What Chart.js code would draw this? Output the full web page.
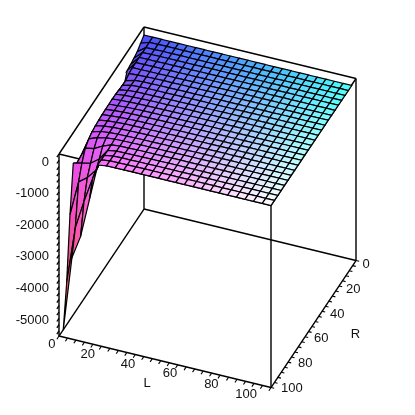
<!DOCTYPE html>
<html>
<head>
<meta charset="utf-8">
<script src="https://cdn.jsdelivr.net/npm/chart.js@4"></script>
<style>
  html, body { margin: 0; padding: 0; background: #fff; }
  canvas { display: block; }
</style>
</head>
<body>
<canvas id="myChart" width="415" height="415"></canvas>
<script>
// grid of the surface
var lValues = [2, 6.1, 10.2, 14.3, 18.3, 22.4, 26.5, 30.6, 34.7, 38.8, 42.8, 46.9, 51, 55.1, 59.2, 63.3, 67.3, 71.4, 75.5, 79.6, 83.7, 87.8, 91.8, 95.9, 100];
var rValues = [5, 9, 13, 16.9, 20.8, 24.8, 28.8, 32.7, 36.7, 40.6, 44.6, 48.5, 52.5, 56.5, 60.4, 64.4, 68.3, 72.3, 76.3, 80.2, 84.2, 88.2, 92.1, 96, 100];

// one row per R value, one column per L value
var zRows = [
  [-20,-20,-20,-20,-20,-20,-20,-20,-20,-20,-20,-20,-20,-20,-20,-20,-20,-20,-20,-20,-20,-20,-20,-20,-20],
  [-120,-25,-20,-20,-20,-20,-20,-20,-20,-20,-20,-20,-20,-20,-20,-20,-20,-20,-20,-20,-20,-20,-20,-20,-20],
  [-230,-30,-25,-20,-20,-20,-20,-20,-20,-20,-20,-20,-20,-20,-20,-20,-20,-15,-15,-15,-15,-15,-15,-15,-15],
  [-280,-30,-25,-20,-20,-20,-20,-20,-15,-15,-15,-15,-15,-15,-15,-15,-15,-15,-15,-15,-15,-15,-15,-15,-15],
  [-320,-30,-25,-25,-20,-20,-20,-20,-15,-15,-15,-15,-15,-15,-15,-15,-15,-15,-10,-10,-10,-10,-10,-10,-10],
  [-350,-30,-30,-25,-25,-20,-20,-15,-15,-15,-15,-15,-15,-15,-10,-10,-10,-10,-10,-10,-10,-10,-10,-10,-10],
  [-700,-30,-30,-25,-25,-20,-20,-15,-15,-15,-15,-10,-10,-10,-10,-10,-10,-10,-10,-10,-10,-10,-10,-10,-10],
  [-750,-60,-40,-30,-25,-20,-20,-15,-15,-15,-10,-10,-10,-10,-10,-10,-10,-10,-10,-10,-10,-10,-10,-10,-5],
  [-800,-120,-50,-30,-25,-20,-20,-15,-15,-15,-10,-10,-10,-10,-10,-10,-10,-10,-10,-5,-5,-5,-5,-5,-5],
  [-800,-115,-50,-30,-25,-20,-20,-15,-15,-10,-10,-10,-10,-10,-10,-5,-5,-5,-5,-5,-5,-5,-5,-5,-5],
  [-800,-100,-50,-30,-25,-20,-20,-15,-15,-10,-10,-10,-10,-5,-5,-5,-5,-5,-5,-5,-5,-5,-5,-5,-5],
  [-800,-80,-50,-35,-25,-20,-15,-15,-10,-10,-10,-10,-5,-5,-5,-5,-5,-5,-5,-5,-5,-5,-5,-5,-5],
  [-800,-70,-50,-35,-25,-20,-15,-15,-10,-10,-10,-5,-5,-5,-5,-5,-5,-5,-5,-5,-5,-5,-5,-5,-5],
  [-800,-75,-55,-35,-25,-20,-15,-15,-10,-10,-10,-5,-5,-5,-5,-5,-5,-5,-5,-5,-5,0,0,0,0],
  [-800,-80,-55,-35,-25,-20,-15,-15,-10,-10,-5,-5,-5,-5,-5,-5,-5,-5,-5,0,0,0,0,0,0],
  [-800,-85,-60,-40,-25,-20,-15,-15,-10,-10,-5,-5,-5,-5,-5,-5,-5,0,0,0,0,0,0,0,0],
  [-820,-100,-60,-40,-25,-20,-15,-15,-10,-10,-5,-5,-5,-5,-5,0,0,0,0,0,0,0,0,0,0],
  [-840,-120,-65,-40,-30,-20,-15,-10,-10,-10,-5,-5,-5,-5,0,0,0,0,0,0,0,0,0,0,0],
  [-860,-150,-75,-45,-30,-20,-15,-10,-10,-5,-5,-5,-5,0,0,0,0,0,0,0,0,0,0,0,0],
  [-880,-220,-110,-55,-30,-20,-15,-10,-10,-5,-5,-5,0,0,0,0,0,0,0,0,0,0,0,0,0],
  [-900,-350,-300,-150,-50,-20,-15,-10,-5,-5,-5,0,0,0,0,0,0,0,0,0,0,0,0,0,0],
  [-730,-660,-600,-400,-60,-20,-15,-10,-5,-5,-5,0,0,0,0,0,0,0,0,0,0,0,0,0,0],
  [-2215,-1100,-900,-600,-60,-20,-10,-10,-5,-5,0,0,0,0,0,0,0,0,0,0,0,0,0,0,0],
  [-4210,-2400,-1500,-700,-50,-15,-10,-5,-5,0,0,0,0,0,0,0,0,0,0,0,0,0,0,0,0],
  [-5540,-3180,-2440,-1230,-50,-10,-5,-5,0,0,0,0,0,0,0,0,0,0,0,0,0,0,0,0,0]
];

var lTicks = [0, 20, 40, 60, 80, 100];
var rTicks = [0, 20, 40, 60, 80, 100];
var zTicks = [0, -1000, -2000, -3000, -4000, -5000];
var zBottom = -5760;

// where label text sits relative to its tick
var lLabelDx = [-3.5, -6.5, -8.5, -9, -10, -14];
var lLabelDy = [8, 8.5, 7.5, 7, 7, 6.5];
var rLabelDx = [6.5, 7, 8, 9, 10, 10];
var rLabelDy = [4, 3.5, 3, 2, 1.5, 0.5];

function project(l, r, z) {
  return {
    x: 144 + 2.12 * l - 0.85 * r,
    y: 27 + 0.515 * l + 1.27 * r - z * 0.0316
  };
}

var datasets = [];

function addLine(points, width, order) {
  datasets.push({
    data: points,
    showLine: true,
    borderColor: '#000',
    borderWidth: width,
    pointRadius: 0,
    fill: false,
    order: order
  });
}

// box
function edge(a, b) {
  addLine([project(a[0], a[1], a[2]), project(b[0], b[1], b[2])], 1.4, 5000);
}
[0, zBottom].forEach(function (z) {
  edge([0, 0, z], [100, 0, z]);
  edge([100, 0, z], [100, 100, z]);
  edge([100, 100, z], [0, 100, z]);
  edge([0, 100, z], [0, 0, z]);
});
edge([0, 0, 0], [0, 0, zBottom]);
edge([100, 0, 0], [100, 0, zBottom]);
edge([100, 100, 0], [100, 100, zBottom]);
edge([0, 100, 0], [0, 100, zBottom]);

// minor ticks along the three axes
for (var t = 0; t <= 100; t += 4) {
  addLine([project(t, 100, zBottom), project(t, 102.5, zBottom)], 1.1, 5000);
  addLine([project(100, t, zBottom), project(101.5, t, zBottom)], 1.1, 5000);
}
for (var zt = 0; zt >= zBottom; zt -= 200) {
  addLine([project(0, 100, zt), project(0, 102.5, zt)], 1.3, 5000);
}

// red follows R, green follows L, blue follows the height
function colorAt(l, r, z) {
  var red = Math.round(62 + 193 * r / 100);
  var green = Math.round(72 + 183 * l / 100);
  var blue = Math.round(255 + 190 * z / 5760);
  return 'rgb(' + red + ',' + green + ',' + blue + ')';
}

// deep cells shade from their top corner to their bottom corner
function cellFill(i, j) {
  return function (context) {
    var chart = context.chart;
    var l = (lValues[i] + lValues[i + 1]) / 2;
    var r = (rValues[j] + rValues[j + 1]) / 2;
    var zs = [zRows[j][i], zRows[j][i + 1], zRows[j + 1][i], zRows[j + 1][i + 1]];
    var top = Math.max.apply(null, zs), low = Math.min.apply(null, zs);
    var sy = chart.scales.y;
    var y0 = sy ? sy.getPixelForValue(project(l, r, top).y) : NaN;
    var y1 = sy ? sy.getPixelForValue(project(l, r, low).y) : NaN;
    if (top - low < 100 || !isFinite(y0) || !isFinite(y1)) {
      return colorAt(l, r, (top + low) / 2);
    }
    var grad = chart.ctx.createLinearGradient(0, y0, 0, y1);
    grad.addColorStop(0, colorAt(l, r, top));
    grad.addColorStop(1, colorAt(l, r, low));
    return grad;
  };
}

for (var j = 0; j < rValues.length - 1; j++) {
  for (var i = 0; i < lValues.length - 1; i++) {
    datasets.push({
      data: [
        project(lValues[i], rValues[j], zRows[j][i]),
        project(lValues[i + 1], rValues[j], zRows[j][i + 1]),
        project(lValues[i + 1], rValues[j + 1], zRows[j + 1][i + 1]),
        project(lValues[i], rValues[j + 1], zRows[j + 1][i]),
        project(lValues[i], rValues[j], zRows[j][i])
      ],
      showLine: true,
      borderColor: '#000',
      borderWidth: 1.2,
      backgroundColor: cellFill(i, j),
      pointRadius: 0,
      fill: 'shape',
      order: 1000 - (i + j)
    });
  }
}

var axisText = {
  id: 'axisText',
  afterDraw: function (chart) {
    var ctx = chart.ctx, sx = chart.scales.x, sy = chart.scales.y;
    function put(text, p, dx, dy, align) {
      ctx.textAlign = align;
      ctx.fillText(text, sx.getPixelForValue(p.x) + dx, sy.getPixelForValue(p.y) + dy);
    }
    ctx.save();
    ctx.fillStyle = '#111';
    ctx.font = '13px "Liberation Sans", Arial, sans-serif';
    ctx.textBaseline = 'middle';
    zTicks.forEach(function (v) {
      put(String(v), project(0, 100, v), -10, 8, 'right');
    });
    lTicks.forEach(function (v, k) {
      put(String(v), project(v, 100, zBottom), lLabelDx[k], lLabelDy[k], 'right');
    });
    rTicks.forEach(function (v, k) {
      put(String(v), project(100, v, zBottom), rLabelDx[k], rLabelDy[k], 'left');
    });
    put('L', project(50, 100, zBottom), -18, 22, 'center');
    put('R', project(100, 50, zBottom), 42, 10, 'center');
    ctx.restore();
  }
};

new Chart(document.getElementById('myChart'), {
  type: 'scatter',
  data: { datasets: datasets },
  plugins: [axisText],
  options: {
    responsive: false,
    animation: false,
    layout: { padding: 0 },
    plugins: { legend: { display: false }, tooltip: { enabled: false } },
    elements: { line: { tension: 0 } },
    scales: {
      x: { type: 'linear', min: 0, max: 415, display: false },
      y: { type: 'linear', min: 0, max: 415, reverse: true, display: false }
    }
  }
});
</script>
</body>
</html>
